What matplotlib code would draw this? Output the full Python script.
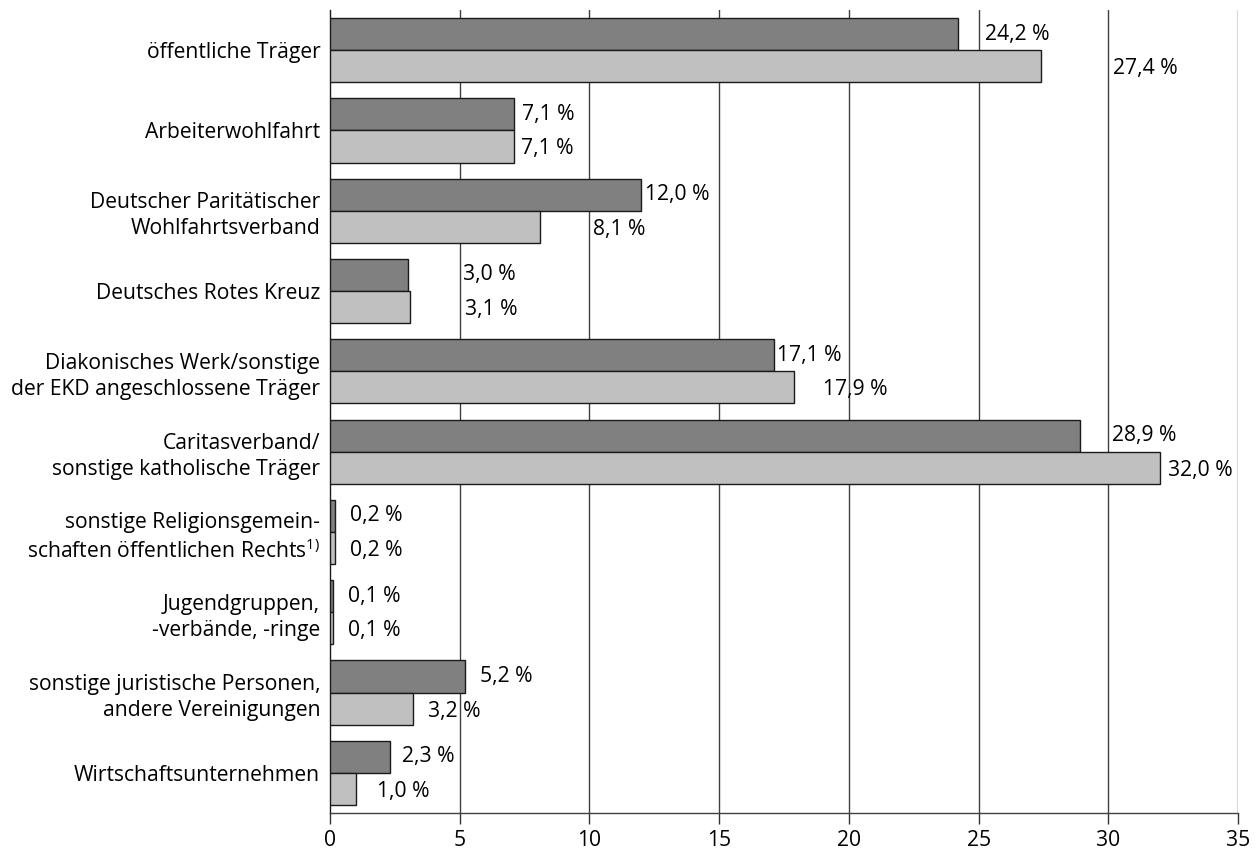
import matplotlib
matplotlib.use("Agg")
import matplotlib.pyplot as plt
import numpy as np

categories = [
    "öffentliche Träger",
    "Arbeiterwohlfahrt",
    "Deutscher Paritätischer\nWohlfahrtsverband",
    "Deutsches Rotes Kreuz",
    "Diakonisches Werk/sonstige\nder EKD angeschlossene Träger",
    "Caritasverband/\nsonstige katholische Träger",
    "sonstige Religionsgemein-\nschaften öffentlichen Rechts$^{\\mathrm{1)}}$",
    "Jugendgruppen,\n-verbände, -ringe",
    "sonstige juristische Personen,\nandere Vereinigungen",
    "Wirtschaftsunternehmen",
]
series_dark = [24.2, 7.1, 12.0, 3.0, 17.1, 28.9, 0.2, 0.1, 5.2, 2.3]
series_light = [27.4, 7.1, 8.1, 3.1, 17.9, 32.0, 0.2, 0.1, 3.2, 1.0]
xticks = [0, 5, 10, 15, 20, 25, 30, 35]

# label x positions (data units) as placed in the original
label_x_dark = [25.24, 7.39, 12.14, 5.13, 17.22, 30.15, 0.77, 0.70, 5.78, 2.78]
label_x_light = [30.2, 7.37, 10.14, 5.2, 19.0, 32.3, 0.77, 0.70, 3.78, 1.81]

plt.rcParams['font.family'] = ['Open Sans', 'DejaVu Sans']
plt.rcParams['mathtext.fontset'] = 'custom'
plt.rcParams['mathtext.rm'] = 'Open Sans'
plt.rcParams['mathtext.it'] = 'Open Sans'
plt.rcParams['mathtext.bf'] = 'Open Sans'

FS = 15.2

fig = plt.figure(figsize=(12.58, 8.56), dpi=100)
ax = fig.add_axes([330/1258, 43/856, 908/1258, 803/856])

y = np.arange(len(categories))
h = 0.4
ax.barh(y - h/2, series_dark, height=h, color='#808080', edgecolor='#1a1a1a', linewidth=1, zorder=3)
ax.barh(y + h/2, series_light, height=h, color='#c0c0c0', edgecolor='#1a1a1a', linewidth=1, zorder=3)

def fmt(v):
    return f"{v:.1f}".replace('.', ',') + " %"

for i in range(len(categories)):
    ax.text(label_x_dark[i], y[i] - h/2, fmt(series_dark[i]), va='center', ha='left', fontsize=FS, zorder=4)
    ax.text(label_x_light[i], y[i] + h/2 + 0.03, fmt(series_light[i]), va='center', ha='left', fontsize=FS, zorder=4)

ax.set_xlim(0, 35)
ax.set_ylim(9.5, -0.5)
ax.set_xticks(xticks)
ax.set_xticklabels([str(t) for t in xticks], fontsize=FS)
ax.set_yticks(y)
ax.set_yticklabels(categories, fontsize=FS, linespacing=1.32)
ax.tick_params(axis='y', length=0, pad=7)
ax.tick_params(axis='x', length=8, width=1, color='#333333', direction='out', pad=4)

for t in xticks[1:]:
    ax.axvline(t, color='#404040', linewidth=1, zorder=1)

for s in ['top', 'right']:
    ax.spines[s].set_visible(False)
ax.spines['left'].set_color('#1a1a1a')
ax.spines['bottom'].set_color('#404040')
ax.spines['left'].set_linewidth(1)
ax.spines['bottom'].set_linewidth(1)

fig.savefig("out.png", dpi=100)
